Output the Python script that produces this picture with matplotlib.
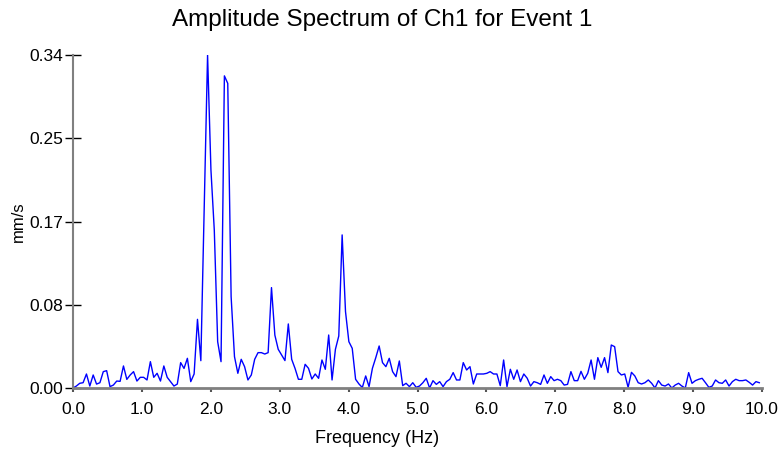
import matplotlib
matplotlib.use("Agg")
import matplotlib.pyplot as plt
import numpy as np

plt.rcParams['font.family'] = ['Liberation Sans', 'DejaVu Sans']

# frequency resolution of the spectrum (Hz)
df = 0.048828125

# amplitude (mm/s), one value per frequency bin
amp = [
    0.000, 0.002, 0.0048, 0.0054, 0.0143, 0.002, 0.0133, 0.004, 0.0054, 0.0167,
    0.0177, 0.0014, 0.003, 0.0071, 0.0068, 0.0225, 0.0088, 0.0133, 0.0167, 0.0071,
    0.0109, 0.0109, 0.0082, 0.0269, 0.0109, 0.015, 0.0071, 0.0225, 0.0109, 0.0065,
    0.002, 0.004, 0.0259, 0.020, 0.0303, 0.0065, 0.0143, 0.0701, 0.0279, 0.185,
    0.340, 0.2227, 0.161, 0.0473, 0.0269, 0.3187, 0.311, 0.0933, 0.032, 0.015,
    0.0293, 0.0218, 0.0082, 0.0133, 0.0293, 0.0361, 0.0361, 0.0347, 0.0361, 0.1025,
    0.054, 0.0395, 0.0337, 0.028, 0.0654, 0.0293, 0.020, 0.0089, 0.0089, 0.0242,
    0.0201, 0.0092, 0.0143, 0.0099, 0.0286, 0.0191, 0.0541, 0.0082, 0.0395, 0.0531,
    0.1563, 0.078, 0.0473, 0.0405, 0.0089, 0.0041, 0.0005, 0.0123, 0.0014, 0.0201,
    0.031, 0.0429, 0.0259, 0.0218, 0.0303, 0.0167, 0.0116, 0.0276, 0.0024, 0.0048,
    0.0014, 0.0054, 0.0007, 0.002, 0.0054, 0.0099, 0.0, 0.0075, 0.0037, 0.0065,
    0.0014, 0.0065, 0.0089, 0.0157, 0.0082, 0.0082, 0.0259, 0.0184, 0.0218, 0.0041,
    0.0143, 0.0143, 0.0143, 0.015, 0.0167, 0.0143, 0.0143, 0.0024, 0.0286, 0.0014,
    0.0191, 0.0089, 0.0184, 0.0065, 0.0143, 0.010, 0.002, 0.0065, 0.0054, 0.0037,
    0.0133, 0.0048, 0.0116, 0.0075, 0.0089, 0.0075, 0.003, 0.0037, 0.0167, 0.0075,
    0.0075, 0.017, 0.0089, 0.015, 0.0286, 0.0089, 0.031, 0.0211, 0.031, 0.0157,
    0.0439, 0.0422, 0.0167, 0.0133, 0.0143, 0.0007, 0.016, 0.0123, 0.0054, 0.0041,
    0.0054, 0.0082, 0.0048, 0.0, 0.0075, 0.003, 0.002, 0.0041, 0.0, 0.003,
    0.0048, 0.002, 0.0, 0.0157, 0.0048, 0.0075, 0.0089, 0.0099, 0.0054, 0.0007,
    0.002, 0.0082, 0.0054, 0.0048, 0.0082, 0.002, 0.0065, 0.0089, 0.0075, 0.0075,
    0.0082, 0.0058, 0.003, 0.0065, 0.0054,
]
freq = np.arange(len(amp)) * df

x_ticks = np.arange(0, 10.01, 1.0)
y_ticks = [0.0, 0.085, 0.17, 0.255, 0.34]
y_labels = ['0.00', '0.08', '0.17', '0.25', '0.34']

fig = plt.figure(figsize=(7.79, 4.5), dpi=100)
ax = fig.add_axes([73 / 779, 62 / 450, 689 / 779, 333 / 450])

ax.plot(freq, amp, color='#0000ff', lw=1.0)

ax.set_xlim(0, 10)
ax.set_ylim(0, 0.34)
ax.set_xticks(x_ticks)
ax.set_xticklabels(['%.1f' % v for v in x_ticks])
ax.set_yticks(y_ticks)
ax.set_yticklabels(y_labels)

for s in ['top', 'right']:
    ax.spines[s].set_visible(False)
ax.spines['left'].set_color('#808080')
ax.spines['left'].set_linewidth(1.5)
ax.spines['bottom'].set_color('#808080')
ax.spines['bottom'].set_linewidth(2)

ax.tick_params(axis='y', direction='inout', length=12, width=1, color='black',
               labelsize=12.5, pad=1)
ax.tick_params(axis='x', direction='out', length=3, width=1.5, color='#555555',
               labelsize=12.5, pad=7)

ax.set_ylabel('mm/s', fontsize=12)
ax.yaxis.set_label_coords((26 - 73) / 689, 0.5)
ax.set_xlabel('Frequency (Hz)', fontsize=13)
ax.xaxis.set_label_coords((377 - 73) / 689, -0.125)

fig.text(382 / 779, 1 - 20 / 450, 'Amplitude Spectrum of Ch1 for Event 1',
         ha='center', va='center', fontsize=17.5)

fig.savefig('out.png', dpi=100)
